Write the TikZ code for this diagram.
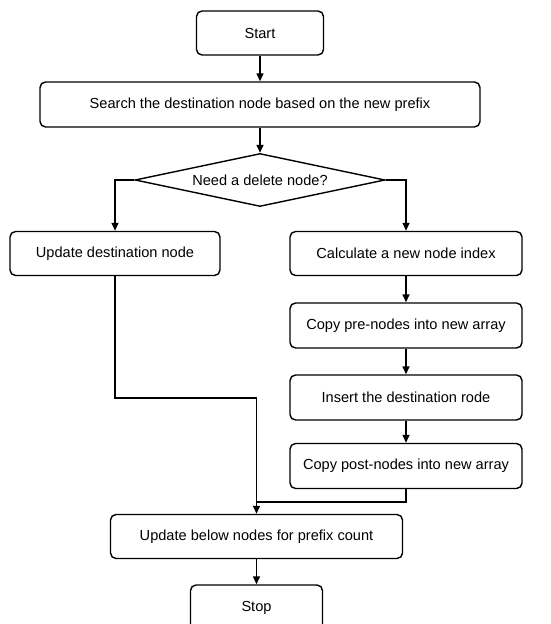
\documentclass[tikz,border=0pt]{standalone}
\usepackage{fontspec}
\setmainfont{Liberation Sans}
\usetikzlibrary{arrows.meta, shapes.geometric}

\begin{document}
\begin{tikzpicture}[
    font=\fontsize{8.3}{10}\selectfont,
    line width=0.8pt,
    flowbox/.style={draw=black, rounded corners=1.1mm, minimum height=0.88cm, inner sep=2pt},
    decide/.style={draw=black, diamond, aspect=4.7, inner sep=0pt, minimum width=5cm, minimum height=1.06cm},
    flow/.style={-{Triangle[length=1.6mm, width=1.4mm]}}
  ]
    \useasboundingbox (0,0) rectangle (11,-12.48);
    \clip (0,0) rectangle (11,-12.48);

    \node[flowbox, minimum width=2.54cm] (start) at (5.2,-0.66) {Start};
    \node[flowbox, minimum width=8.8cm, minimum height=0.9cm] (search) at (5.2,-2.09) {Search the destination node based on the new prefix};
    \node[decide] (dec) at (5.2,-3.6) {Need a delete node?};

    \node[flowbox, minimum width=4.2cm] (upd) at (2.3,-5.07) {Update destination node};
    \node[flowbox, minimum width=4.64cm] (calc) at (8.12,-5.07) {Calculate a new node index};
    \node[flowbox, minimum width=4.64cm, minimum height=0.9cm] (pre) at (8.12,-6.51) {Copy pre-nodes into new array};
    \node[flowbox, minimum width=4.64cm, minimum height=0.9cm] (ins) at (8.12,-7.95) {Insert the destination rode};
    \node[flowbox, minimum width=4.64cm, minimum height=0.9cm] (post) at (8.12,-9.32) {Copy post-nodes into new array};

    \node[flowbox, minimum width=5.84cm] (below) at (5.13,-10.73) {Update below nodes for prefix count};
    \node[flowbox, minimum width=2.64cm, minimum height=0.9cm] (stop) at (5.13,-12.15) {Stop};

    \coordinate (bend) at (5.13,-7.96);
    \coordinate (merge) at (5.13,-10.04);

    \draw[flow] (start) -- (search);
    \draw[flow] (search) -- (dec);
    \draw[flow] (dec.west) -| (upd.north);
    \draw[flow] (dec.east) -| (calc.north);
    \draw[flow] (calc) -- (pre);
    \draw[flow] (pre) -- (ins);
    \draw[flow] (ins) -- (post);
    \draw (upd.south) |- (bend);
    \draw (post.south) |- (merge);
    \draw[flow] (bend) -- (below.north);
    \draw[flow] (below) -- (stop);
  \end{tikzpicture}
\end{document}
